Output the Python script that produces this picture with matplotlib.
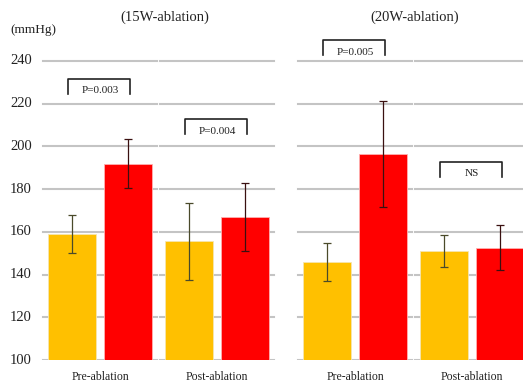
import matplotlib.pyplot as plt
import numpy as np

plt.rcParams["font.family"] = ["Liberation Serif", "DejaVu Serif"]

panels = ["(15W-ablation)", "(20W-ablation)"]
groups = ["Pre-ablation", "Post-ablation", "Pre-ablation", "Post-ablation"]
orange_vals = [159, 155.5, 146, 151]
orange_err = [9, 18, 9, 7.5]
red_vals = [192, 167, 196.5, 152.5]
red_err = [11.5, 16, 25, 10.5]
p_labels = ["P=0.003", "P=0.004", "P=0.005", "NS"]
p_heights = [231.6, 212.8, 249.8, 192.7]
yticks = [100, 120, 140, 160, 180, 200, 220, 240]

fig = plt.figure(figsize=(5.23, 3.83), dpi=100)
W, H = 523, 383
# axes maps x pixels 0..523, y 100 at px 360, 240 at px 61
ppu = (360 - 61) / 140.0
ytop = 100 + 360 / ppu
ax = fig.add_axes([0, 23 / H, 1, 360 / H])
ax.set_xlim(0, W)
ax.set_ylim(100, ytop)
ax.axis("off")

centers = np.array([100, 217, 355, 472])
half = 57
off = 28
bw = 48

for i, c in enumerate(centers):
    for t in yticks:
        ax.plot([c - half, c + half], [t, t], color="#c4c4c4", lw=1.5, zorder=1)
    ax.bar(c - off, orange_vals[i] - 100, bottom=100, width=bw, color="#FFC000",
           edgecolor="#f5e6b0", lw=0.6, zorder=2)
    ax.bar(c + off, red_vals[i] - 100, bottom=100, width=bw, color="#FF0000",
           edgecolor="#ffb0b0", lw=0.6, zorder=2)
    ax.errorbar(c - off, orange_vals[i], yerr=orange_err[i], fmt="none",
                ecolor="#4a4a2a", elinewidth=0.9, capsize=3, capthick=0.9, zorder=3)
    ax.errorbar(c + off, red_vals[i], yerr=red_err[i], fmt="none",
                ecolor="#3a1010", elinewidth=0.9, capsize=3, capthick=0.9, zorder=3)
    # bracket
    h = p_heights[i]
    x0, x1 = c - 32, c + 30
    ax.plot([x0, x0, x1, x1], [h - 7, h, h, h - 7], color="#222222", lw=1.2, zorder=3)
    ax.text(c, h - 5.6, p_labels[i], ha="center", va="center", fontsize=8, color="#222222")
    ax.text(c, 100 - 5, groups[i], ha="center", va="top", fontsize=8.5,
            color="#222222", clip_on=False)

for t in yticks:
    ax.text(32, t, str(t), ha="right", va="center", fontsize=10.5, color="#222222")

fig.text(10 / W, 1 - 30 / H, "(mmHg)", ha="left", va="center", fontsize=9.5, color="#222222")
fig.text(165 / W, 1 - 17 / H, panels[0], ha="center", va="center", fontsize=10.5, color="#222222")
fig.text(415 / W, 1 - 17 / H, panels[1], ha="center", va="center", fontsize=10.5, color="#222222")

fig.savefig("out.png", dpi=100)
